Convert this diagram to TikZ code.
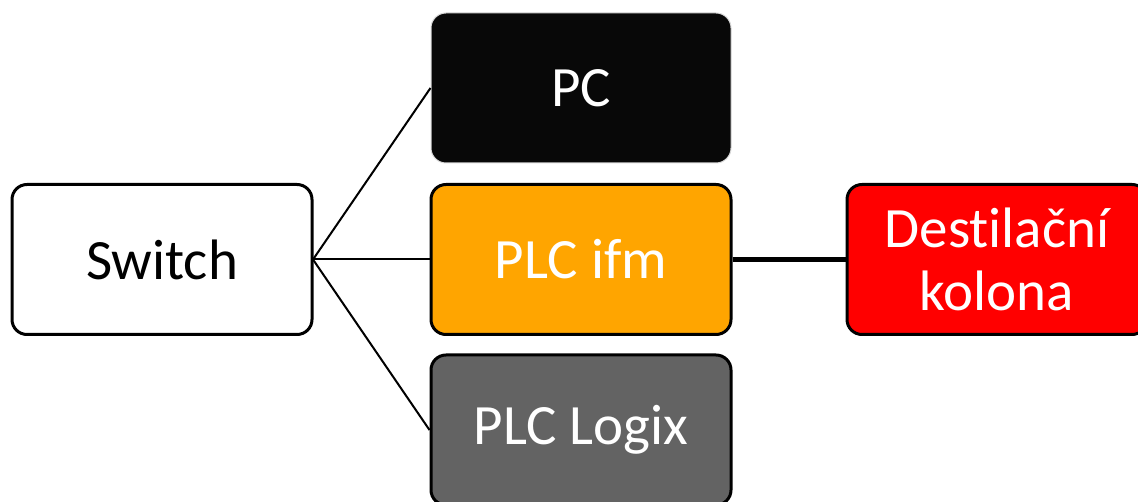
\documentclass[tikz,border=0pt]{standalone}
\usepackage{fontspec}
\setmainfont[Ligatures={NoCommon}]{Carlito}
\begin{document}
\begin{tikzpicture}[x=1pt,y=-1pt,
  box/.style={draw=black,line width=3pt,rounded corners=15pt,minimum width=300pt,minimum height=150pt,inner sep=0pt,align=center,font=\fontsize{57}{63}\selectfont},
  link/.style={line width=2pt,black},
  thick link/.style={line width=4.5pt,black}]
\useasboundingbox (0,0) rectangle (1138,502);
\clip (0,0) rectangle (1138,502);
\node[box,fill=white] (sw) at (162,259.5) {Switch};
\node[box,fill=black!97,draw=black!15,line width=1pt,text=white] (pc) at (581,88) {PC};
\node[box,fill={rgb,255:red,255;green,165;blue,0},text=white] (ifm) at (581,259.5) {PLC ifm};
\node[box,fill={rgb,255:red,99;green,99;blue,99},text=white] (logix) at (581,430) {PLC Logix};
\node[box,fill={rgb,255:red,255;green,0;blue,0},text=white] (dest) at (997,259.5) {Destilační\\kolona};
\coordinate (hub) at (313,259.5);
\draw[link] (hub) -- (pc.west);
\draw[link] (hub) -- (ifm.west);
\draw[link] (hub) -- (logix.west);
\draw[thick link] (ifm.east) -- (dest.west);
\end{tikzpicture}
\end{document}
